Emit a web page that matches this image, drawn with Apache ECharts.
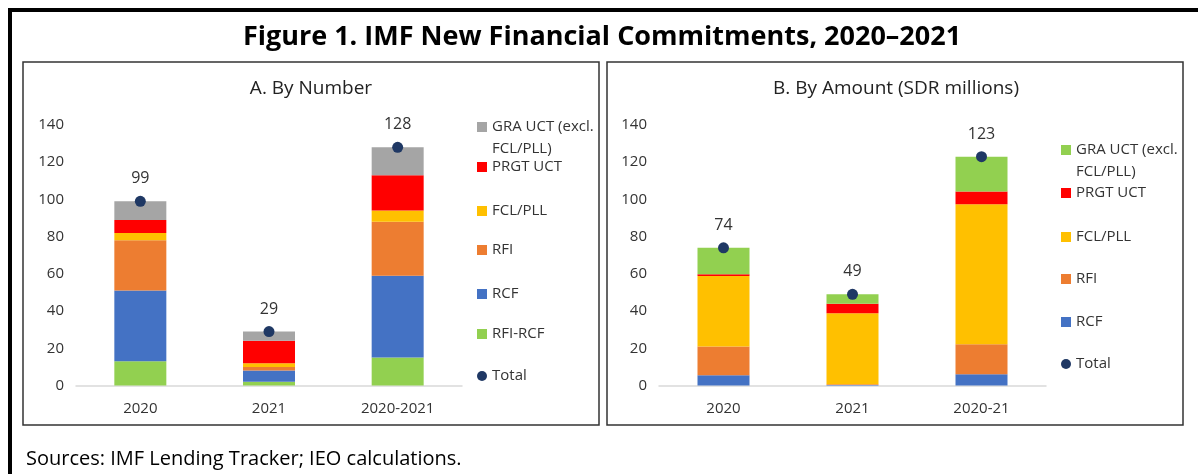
<!DOCTYPE html>
<html>
<head>
<meta charset="utf-8">
<title>IMF New Financial Commitments, 2020–2021</title>
<script src="https://cdn.jsdelivr.net/npm/echarts@6/dist/echarts.min.js"></script>
<style>
  html, body { margin: 0; padding: 0; background: #fff; }
  #main { width: 1198px; height: 474px; }
</style>
</head>
<body>
<div id="main"></div>
<script>
// A. by number of commitments
var catsA = ['2020', '2021', '2020-2021'];
var rfiRcfA = [13, 2, 15];
var rcfA = [38, 6, 44];
var rfiA = [27, 2, 29];
var fclA = [4, 2, 6];
var prgtA = [7, 12, 19];
var graA = [10, 5, 15];
var totalA = [99, 29, 128];

// B. by amount (SDR millions)
var catsB = ['2020', '2021', '2020-21'];
var rcfB = [5.5, 0.3, 6.1];
var rfiB = [15.4, 0.4, 16.1];
var fclB = [38.0, 38.1, 75.2];
var prgtB = [0.9, 5.2, 6.8];
var graB = [14.2, 5.0, 18.8];
var totalB = [74, 49, 123];

// y axis ticks, same on both panels
var yMin = 0, yMax = 140, yStep = 20;

var FONT = '"Open Sans", "Noto Sans", sans-serif';
var TXT = '#333';
var col = {
  gra: '#a5a5a5',
  prgt: '#ff0000',
  fcl: '#ffc000',
  rfi: '#ed7d31',
  rcf: '#4472c4',
  green: '#92d050',
  total: '#1f3864'
};

var GRA = 'GRA UCT (excl. FCL/PLL)';

function bar(name, data, color, i) {
  return {
    name: name,
    type: 'bar',
    stack: 'p' + i,
    xAxisIndex: i,
    yAxisIndex: i,
    barWidth: 52,
    data: data,
    itemStyle: { color: color },
    emphasis: { disabled: true }
  };
}

function total(data, i) {
  return {
    name: 'Total',
    type: 'scatter',
    xAxisIndex: i,
    yAxisIndex: i,
    data: data,
    symbolSize: 11,
    z: 5,
    itemStyle: { color: col.total, opacity: 1 },
    label: {
      show: true,
      position: 'top',
      distance: 9,
      fontFamily: FONT,
      fontSize: 16,
      color: TXT
    },
    emphasis: { disabled: true }
  };
}

// one legend per entry so the spacing can follow the original
function leg(name, color, icon, x, cy) {
  var two = name === GRA;
  return {
    left: x,
    top: two ? cy - 33 : cy - 11,
    orient: 'vertical',
    selectedMode: false,
    icon: 'rect',
    itemWidth: 10,
    itemHeight: 10,
    data: [{ name: name, icon: icon, itemStyle: { color: color, opacity: 1 } }],
    formatter: function (n) {
      return n === GRA ? ' \nGRA UCT (excl.\nFCL/PLL)' : n;
    },
    textStyle: { fontFamily: FONT, fontSize: 15, color: TXT, lineHeight: 22 }
  };
}

function xAx(cats, i) {
  return {
    type: 'category',
    gridIndex: i,
    data: cats,
    axisTick: { show: false },
    axisLine: { lineStyle: { color: '#d9d9d9', width: 1.5 } },
    axisLabel: { fontFamily: FONT, fontSize: 15, color: TXT, margin: 16 }
  };
}

function yAx(i) {
  return {
    type: 'value',
    gridIndex: i,
    min: yMin,
    max: yMax,
    interval: yStep,
    splitLine: { show: false },
    axisLine: { show: false },
    axisTick: { show: false },
    axisLabel: { fontFamily: FONT, fontSize: 15, color: TXT, margin: 12 }
  };
}

var chart = echarts.init(document.getElementById('main'));

var option = {
  animation: false,
  backgroundColor: '#fff',
  grid: [
    { left: 76, top: 125, width: 386, height: 260.5 },
    { left: 659, top: 125, width: 387, height: 260.5 }
  ],
  xAxis: [xAx(catsA, 0), xAx(catsB, 1)],
  yAxis: [yAx(0), yAx(1)],
  legend: [
    leg(GRA, col.gra, 'rect', 472, 122),
    leg('PRGT UCT', col.prgt, 'rect', 472, 162),
    leg('FCL/PLL', col.fcl, 'rect', 472, 206),
    leg('RFI', col.rfi, 'rect', 472, 245),
    leg('RCF', col.rcf, 'rect', 472, 289),
    leg('RFI-RCF', col.green, 'rect', 472, 329),
    leg('Total', col.total, 'circle', 472, 371),
    leg(GRA, col.green, 'rect', 1056, 145),
    leg('PRGT UCT', col.prgt, 'rect', 1056, 188),
    leg('FCL/PLL', col.fcl, 'rect', 1056, 232),
    leg('RFI', col.rfi, 'rect', 1056, 274),
    leg('RCF', col.rcf, 'rect', 1056, 317),
    leg('Total', col.total, 'circle', 1056, 359)
  ],
  series: [
    bar('RFI-RCF', rfiRcfA, col.green, 0),
    bar('RCF', rcfA, col.rcf, 0),
    bar('RFI', rfiA, col.rfi, 0),
    bar('FCL/PLL', fclA, col.fcl, 0),
    bar('PRGT UCT', prgtA, col.prgt, 0),
    bar(GRA, graA, col.gra, 0),
    total(totalA, 0),
    bar('RCF', rcfB, col.rcf, 1),
    bar('RFI', rfiB, col.rfi, 1),
    bar('FCL/PLL', fclB, col.fcl, 1),
    bar('PRGT UCT', prgtB, col.prgt, 1),
    bar(GRA, graB, col.green, 1),
    total(totalB, 1)
  ],
  graphic: [
    // outer frame, right and bottom run off the picture
    { type: 'rect', shape: { x: 10, y: 10, width: 1210, height: 490 },
      style: { fill: null, stroke: '#000', lineWidth: 4 }, silent: true },
    { type: 'rect', shape: { x: 23, y: 62, width: 576, height: 363 },
      style: { fill: null, stroke: '#333', lineWidth: 1.5 }, silent: true },
    { type: 'rect', shape: { x: 607, y: 62, width: 576, height: 363 },
      style: { fill: null, stroke: '#333', lineWidth: 1.5 }, silent: true },
    { type: 'text', x: 602, y: 37, silent: true,
      style: { text: 'Figure 1. IMF New Financial Commitments, 2020–2021',
        fontFamily: FONT, fontWeight: 'bold', fontSize: 27, fill: '#000',
        textAlign: 'center', textVerticalAlign: 'middle' } },
    { type: 'text', x: 311, y: 89, silent: true,
      style: { text: 'A. By Number', fontFamily: FONT, fontSize: 19, fill: '#222',
        textAlign: 'center', textVerticalAlign: 'middle' } },
    { type: 'text', x: 896, y: 89, silent: true,
      style: { text: 'B. By Amount (SDR millions)', fontFamily: FONT, fontSize: 19, fill: '#222',
        textAlign: 'center', textVerticalAlign: 'middle' } },
    { type: 'text', x: 26, y: 459, silent: true,
      style: { text: 'Sources: IMF Lending Tracker; IEO calculations.', fontFamily: FONT,
        fontSize: 20, fill: '#000', textAlign: 'left', textVerticalAlign: 'middle' } }
  ]
};

chart.setOption(option);
</script>
</body>
</html>
